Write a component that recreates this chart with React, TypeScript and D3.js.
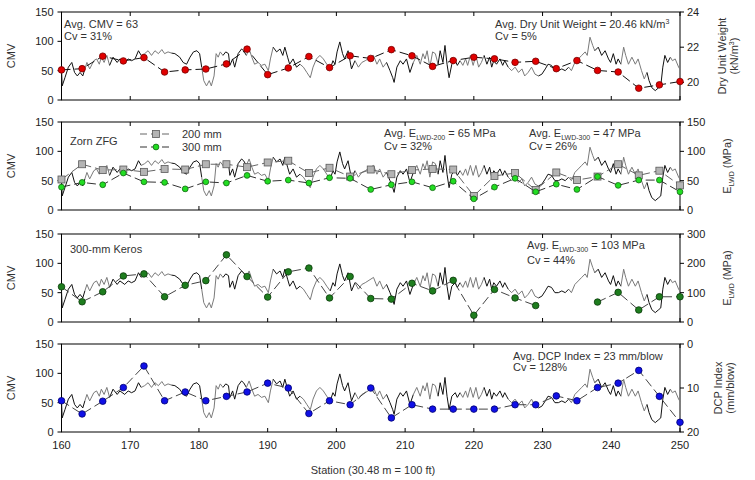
import React from "react";
import * as d3 from "d3";

// spot-test stations (every 3 stations)
const stations = [
  160, 163, 166, 169, 172, 175, 178, 181, 184, 187, 190, 193, 196, 199, 202, 205,
  208, 211, 214, 217, 220, 223, 226, 229, 232, 235, 238, 241, 244, 247, 250,
];

const dryUnitWeight = [
  20.71, 20.78, 21.49, 21.22, 21.41, 20.59, 20.71, 20.76, 21.05, 21.89, 20.44, 20.82, 21.47, 20.84, 21.51, 21.36,
  21.86, 21.51, 20.91, 21.24, 21.43, 21.34, 21.14, 21.2, 20.78, 21.24, 20.68, 20.59, 19.67, 19.86, 20.05,
];

const elwd200 = [
  52, 78, 68, 69, 65, 70, 69, 78, 78, 73, 81, 84, 63, 72, 57, 69,
  61, 68, 70, 69, 24, 58, 63, 34, 64, 51, 57, 78, 59, 67, 42,
];

const elwd300 = [
  39, 47, 43, 63, 48, 47, 36, 48, 46, 59, 49, 51, 46, 55, 54, 35,
  43, 48, 38, 49, 19, 39, 54, 31, 44, 35, 57, 42, 51, 51, 31,
];

const kerosElwd: (number | null)[] = [
  120, 69, 103, 157, 164, 86, 125, 141, 229, 155, 85, 171, 184, 82, 155, 80,
  78, 132, 106, 142, 23, 111, 82, 56, null, null, 68, 101, 41, 86, 86,
];

const dcpIndex = [
  12.9, 15.9, 13.0, 9.9, 5.0, 12.9, 10.9, 12.9, 11.9, 10.9, 8.9, 10.0, 15.8, 12.9, 13.8, 10.0,
  16.8, 13.8, 14.8, 14.8, 14.8, 14.8, 13.8, 13.8, 11.8, 12.9, 9.9, 8.9, 6.0, 11.9, 17.8,
];

// continuous CMV record
const cmvStation = [
  160.0, 160.1, 160.5, 161.0, 161.5, 161.9, 162.3, 162.7, 163.1, 163.4, 163.7, 164.1, 164.7, 165.1, 165.5, 165.8,
  166.2, 166.6, 167.0, 167.5, 168.1, 168.5, 169.2, 169.7, 170.2, 170.7, 171.2, 171.6, 172.1, 172.6, 173.1, 173.6,
  174.1, 174.6, 175.0, 175.5, 176.0, 176.5, 177.2, 177.7, 178.2, 178.7, 179.2, 179.7, 180.1, 180.4, 180.7, 181.1,
  181.5, 181.8, 182.2, 182.5, 182.8, 183.1, 183.5, 183.9, 184.3, 184.5, 184.9, 185.2, 185.7, 186.2, 186.5, 186.9,
  187.3, 187.7, 188.1, 188.6, 189.1, 189.6, 190.1, 190.4, 190.8, 191.3, 191.8, 192.2, 192.5, 192.9, 193.2, 193.7,
  194.2, 194.7, 195.2, 195.7, 196.2, 196.6, 197.1, 197.6, 198.1, 198.6, 199.1, 199.5, 199.8, 200.1, 200.5, 200.9,
  201.2, 201.7, 202.2, 202.7, 203.2, 203.7, 204.2, 204.6, 205.4, 205.9, 206.3, 206.8, 207.3, 207.8, 208.2, 208.4,
  208.8, 209.3, 209.7, 210.2, 210.7, 211.2, 211.7, 212.2, 212.6, 212.9, 213.2, 213.6, 214.0, 214.4, 214.8, 215.1,
  215.5, 215.8, 216.1, 216.4, 216.8, 217.3, 217.6, 218.0, 218.4, 218.8, 219.1, 219.5, 219.9, 220.3, 220.7, 221.1,
  221.5, 221.9, 222.3, 222.6, 222.9, 223.3, 223.8, 224.2, 224.5, 225.0, 225.5, 226.0, 226.5, 227.0, 227.4, 227.9,
  228.4, 228.9, 229.4, 229.9, 230.4, 230.8, 231.3, 231.8, 232.3, 232.8, 233.3, 233.8, 234.2, 234.7, 235.2, 235.7,
  236.2, 236.5, 236.9, 237.3, 237.6, 238.1, 238.6, 239.1, 239.6, 239.9, 240.3, 240.7, 241.0, 241.4, 241.8, 242.1,
  242.5, 243.0, 243.5, 243.9, 244.4, 244.8, 245.2, 245.5, 245.9, 246.4, 246.9, 247.2, 247.5, 247.8, 248.2, 248.6,
  248.9, 249.3, 249.8, 250.0,
];

const cmvValue = [
  53, 24, 38, 56, 64, 47, 41, 47, 41, 53, 64, 53, 67, 70, 61, 73,
  64, 76, 59, 73, 64, 70, 64, 70, 67, 70, 84, 76, 79, 84, 76, 84,
  79, 86, 79, 82, 80, 79, 73, 64, 61, 73, 82, 84, 79, 56, 33, 24,
  33, 24, 41, 79, 73, 82, 76, 82, 79, 59, 70, 56, 79, 87, 84, 76,
  87, 73, 61, 64, 59, 61, 50, 70, 90, 82, 87, 76, 90, 73, 61, 70,
  56, 61, 56, 47, 38, 56, 70, 76, 70, 61, 53, 67, 61, 82, 99, 79,
  70, 84, 53, 67, 56, 64, 67, 70, 76, 61, 70, 56, 64, 50, 38, 30,
  56, 67, 61, 70, 47, 64, 76, 61, 79, 70, 84, 56, 82, 79, 61, 84,
  64, 93, 61, 38, 61, 67, 59, 67, 59, 70, 59, 76, 59, 76, 56, 64,
  76, 61, 73, 56, 67, 61, 70, 59, 67, 56, 50, 56, 47, 53, 41, 47,
  56, 44, 41, 44, 53, 61, 59, 50, 50, 53, 50, 56, 50, 64, 70, 76,
  82, 76, 107, 93, 84, 90, 76, 84, 70, 64, 79, 61, 70, 61, 90, 76,
  61, 73, 61, 70, 50, 36, 47, 33, 21, 16, 21, 24, 56, 76, 64, 73,
  67, 70, 56, 52,
];

const xTicks = [160, 170, 180, 190, 200, 210, 220, 230, 240, 250];
const cmvTicks = [0, 50, 100, 150];

const FONT = "'Liberation Sans', Arial, sans-serif";
const panelTops = [12, 122, 234, 344];
const panelH = 88;
const xL = 61.5;
const xR = 680;

const x = d3.scaleLinear().domain([160, 250]).range([xL, xR]);

function Sub({ children }: { children: string }) {
  return (
    <tspan fontSize={7} dy={3}>
      {children}
    </tspan>
  );
}

function Marker({ kind, cx, cy, fill, stroke }: any) {
  if (kind === "square") {
    return <rect x={cx - 3.5} y={cy - 3.5} width={7} height={7} fill={fill} stroke={stroke} strokeWidth={0.8} />;
  }
  return <circle cx={cx} cy={cy} r={kind === "small" ? 2.9 : 3.3} fill={fill} stroke={stroke} strokeWidth={0.8} />;
}

function Panel({ index, right, series, children, rightTitle }: any) {
  const top = panelTops[index];
  const bottom = top + panelH;
  const yL = d3.scaleLinear().domain([0, 150]).range([bottom, top]);
  const yR = d3.scaleLinear().domain(right.domain).range(right.range ? [top, bottom] : [bottom, top]);

  const cmvPts: [number, number][] = cmvStation.map((s, i) => [x(s), yL(cmvValue[i])]);
  const chunk = 9;
  const segs: { d: string; c: string }[] = [];
  for (let i = 0; i < cmvPts.length - 1; i += chunk) {
    const part = cmvPts.slice(i, i + chunk + 1);
    segs.push({ d: d3.line()(part) || "", c: (i / chunk) % 2 === 0 ? "#111" : "#7a7a7a" });
  }

  return (
    <g>
      <rect x={xL} y={top} width={xR - xL} height={panelH} fill="none" stroke="#000" strokeWidth={1} />
      {xTicks.map((t) => (
        <g key={t}>
          <line x1={x(t)} x2={x(t)} y1={top} y2={top + 4} stroke="#000" />
          <line x1={x(t)} x2={x(t)} y1={bottom} y2={bottom - 4} stroke="#000" />
        </g>
      ))}
      {cmvTicks.map((t) => (
        <g key={t}>
          <line x1={xL - 4} x2={xL} y1={yL(t)} y2={yL(t)} stroke="#000" />
          <text x={xL - 8} y={yL(t)} dy="0.35em" textAnchor="end" fontSize={11} fill="#222">
            {t}
          </text>
        </g>
      ))}
      {right.ticks.map((t: number) => (
        <g key={t}>
          <line x1={xR} x2={xR + 4} y1={yR(t)} y2={yR(t)} stroke="#000" />
          <text x={xR + 7} y={yR(t)} dy="0.35em" fontSize={11} fill="#222">
            {t}
          </text>
        </g>
      ))}
      <text transform={`translate(15,${top + panelH / 2}) rotate(-90)`} textAnchor="middle" fontSize={11} fill="#333">
        CMV
      </text>
      {rightTitle}
      {segs.map((s, i) => (
        <path key={i} d={s.d} fill="none" stroke={s.c} strokeWidth={1} />
      ))}
      {series.map((se: any, k: number) => {
        const line = d3
          .line<number | null>()
          .defined((v) => v != null)
          .x((_, i) => x(stations[i]))
          .y((v) => yR(v as number));
        return (
          <g key={k}>
            <path d={line(se.values) || ""} fill="none" stroke={se.lineColor} strokeWidth={1} strokeDasharray="9,4" />
            {se.values.map((v: number | null, i: number) =>
              v == null ? null : (
                <Marker key={i} kind={se.kind} cx={x(stations[i])} cy={yR(v)} fill={se.fill} stroke={se.stroke} />
              )
            )}
          </g>
        );
      })}
      {children}
    </g>
  );
}

export default function App() {
  const rotTitle = (cx: number, cy: number, content: any) => (
    <text transform={`translate(${cx},${cy}) rotate(-90)`} textAnchor="middle" fontSize={11} fill="#333">
      {content}
    </text>
  );

  return (
    <svg
      width={755}
      height={480}
      style={{ position: "absolute", left: 0, top: 0, background: "#fff" }}
      fontFamily={FONT}
    >
      <Panel
        index={0}
        right={{ domain: [19, 24], ticks: [20, 22, 24] }}
        series={[{ values: dryUnitWeight, kind: "big", fill: "#e00000", stroke: "#700", lineColor: "#111" }]}
        rightTitle={
          <g>
            {rotTitle(726, 56, "Dry Unit Weight")}
            {rotTitle(738, 56, <>(kN/m<tspan fontSize={7} dy={-4}>3</tspan><tspan dy={4}>)</tspan></>)}
          </g>
        }
      >
        <text x={64} y={28} fontSize={11} fill="#333">Avg. CMV = 63</text>
        <text x={64} y={40} fontSize={11} fill="#333">Cv = 31%</text>
        <text x={495} y={28} fontSize={11} fill="#333">
          Avg. Dry Unit Weight = 20.46 kN/m<tspan fontSize={7} dy={-4}>3</tspan>
        </text>
        <text x={495} y={40} fontSize={11} fill="#333">Cv = 5%</text>
      </Panel>

      <Panel
        index={1}
        right={{ domain: [0, 150], ticks: [0, 50, 100, 150] }}
        series={[
          { values: elwd200, kind: "square", fill: "#b4b4b4", stroke: "#5a5a5a", lineColor: "#666" },
          { values: elwd300, kind: "small", fill: "#22dd22", stroke: "#136813", lineColor: "#333" },
        ]}
        rightTitle={rotTitle(731, 166, <>E<Sub>LWD</Sub><tspan dy={-3}> (MPa)</tspan></>)}
      >
        <text x={70} y={145} fontSize={11} fill="#333">Zorn ZFG</text>
        <line x1={140} x2={172} y1={134} y2={134} stroke="#666" strokeDasharray="7,4" />
        <Marker kind="square" cx={156} cy={134} fill="#b4b4b4" stroke="#5a5a5a" />
        <line x1={140} x2={172} y1={147} y2={147} stroke="#333" strokeDasharray="7,4" />
        <Marker kind="small" cx={156} cy={147} fill="#22dd22" stroke="#136813" />
        <text x={182} y={138} fontSize={11} fill="#333">200 mm</text>
        <text x={182} y={151} fontSize={11} fill="#333">300 mm</text>
        <text x={384} y={137} fontSize={11} fill="#333">
          Avg. E<Sub>LWD-200</Sub><tspan dy={-3}> = 65 MPa</tspan>
        </text>
        <text x={384} y={150} fontSize={11} fill="#333">Cv = 32%</text>
        <text x={529} y={137} fontSize={11} fill="#333">
          Avg. E<Sub>LWD-300</Sub><tspan dy={-3}> = 47 MPa</tspan>
        </text>
        <text x={529} y={150} fontSize={11} fill="#333">Cv = 26%</text>
      </Panel>

      <Panel
        index={2}
        right={{ domain: [0, 300], ticks: [0, 100, 200, 300] }}
        series={[{ values: kerosElwd, kind: "big", fill: "#1e7d1e", stroke: "#0a3a0a", lineColor: "#444" }]}
        rightTitle={rotTitle(731, 278, <>E<Sub>LWD</Sub><tspan dy={-3}> (MPa)</tspan></>)}
      >
        <text x={70} y={253} fontSize={11} fill="#333">300-mm Keros</text>
        <text x={527} y={249} fontSize={11} fill="#333">
          Avg. E<Sub>LWD-300</Sub><tspan dy={-3}> = 103 MPa</tspan>
        </text>
        <text x={527} y={264} fontSize={11} fill="#333">Cv = 44%</text>
      </Panel>

      <Panel
        index={3}
        right={{ domain: [0, 20], ticks: [0, 10, 20], range: "down" }}
        series={[{ values: dcpIndex, kind: "big", fill: "#1010e6", stroke: "#000070", lineColor: "#444" }]}
        rightTitle={
          <g>
            {rotTitle(722, 388, "DCP Index")}
            {rotTitle(734, 388, "(mm/blow)")}
          </g>
        }
      >
        <text x={513} y={360} fontSize={11} fill="#333">Avg. DCP Index = 23 mm/blow</text>
        <text x={513} y={371} fontSize={11} fill="#333">Cv = 128%</text>
      </Panel>

      {xTicks.map((t) => (
        <text key={t} x={x(t)} y={449} textAnchor="middle" fontSize={11} fill="#222">
          {t}
        </text>
      ))}
      <text x={373} y={474} textAnchor="middle" fontSize={11} fill="#333">
        Station (30.48 m = 100 ft)
      </text>
    </svg>
  );
}
